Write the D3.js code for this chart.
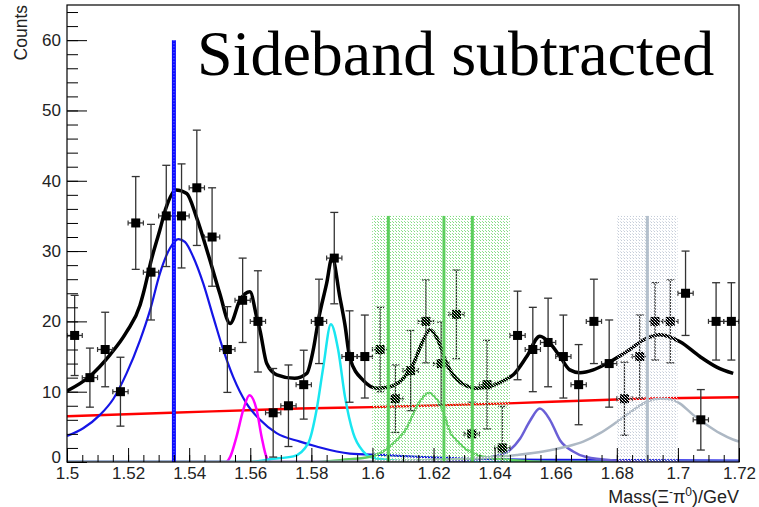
<!DOCTYPE html>
<html>
<head>
<meta charset="utf-8">
<script src="https://cdn.jsdelivr.net/npm/d3@7"></script>
<style>
  body { margin: 0; background: #fff; }
  svg { display: block; }
</style>
</head>
<body>
<script>
// Chart size
const width = 759;
const height = 507;

// Bin centres and sideband-subtracted counts with errors
const binCenters = [1.5025, 1.5075, 1.5125, 1.5175, 1.5225, 1.5275, 1.5325, 1.5375, 1.5425, 1.5475,
  1.5525, 1.5575, 1.5625, 1.5675, 1.5725, 1.5775, 1.5825, 1.5875, 1.5925, 1.5975,
  1.6025, 1.6075, 1.6125, 1.6175, 1.6225, 1.6275, 1.6325, 1.6375, 1.6425, 1.6475,
  1.6525, 1.6575, 1.6625, 1.6675, 1.6725, 1.6775, 1.6825, 1.6875, 1.6925, 1.6975,
  1.7025, 1.7075, 1.7125, 1.7175];
const counts = [18, 12, 16, 10, 34, 27, 35, 35, 39, 32,
  16, 23, 20, 7, 8, 11, 20, 29, 15, 15,
  16, 9, 13, 20, 14, 21, 4, 11, 2, 18,
  16, 17, 15, 11, 20, 14, 9, 15, 20, 20,
  24, 6, 20, 20];
const errors = [5.7, 4.2, 5.3, 4.9, 6.6, 6.8, 7.2, 7.4, 8.2, 7.0,
  6.1, 6.0, 7.2, 6.3, 5.8, 4.9, 6.0, 6.5, 6.5, 5.9,
  6.0, 4.8, 5.7, 5.9, 5.9, 6.3, 4.5, 6.3, 5.9, 6.3,
  6.0, 6.3, 5.9, 5.7, 6.0, 6.2, 5.2, 5.9, 5.5, 5.9,
  6.0, 4.3, 5.5, 5.5];
const binHalfWidth = 0.0025;

// Fit curves, [mass, counts]
const totalFit = [[1.5, 10.1], [1.5075, 12.2], [1.514, 15.2], [1.5195, 18.5], [1.5239, 22.3], [1.525, 24.0],
  [1.5277, 28.9], [1.5304, 33], [1.5323, 36], [1.5357, 38.7], [1.5392, 38.2], [1.5424, 34.8],
  [1.5468, 28.7], [1.55, 24], [1.5534, 19.7], [1.5566, 23], [1.5599, 24.2], [1.5621, 20.6],
  [1.5632, 18.7], [1.5654, 14], [1.5687, 12.4], [1.5745, 11.9], [1.5785, 12.6], [1.5806, 15.9],
  [1.5823, 20.2], [1.585, 25.4], [1.5868, 29.1], [1.5893, 23.5], [1.591, 19.5], [1.5926, 14.8],
  [1.597, 11.6], [1.6014, 10.5], [1.6057, 10.7], [1.6101, 11.9], [1.6134, 14], [1.6166, 17.3],
  [1.6188, 18.8], [1.6215, 17.3], [1.6243, 14], [1.6286, 11.4], [1.6341, 10.5], [1.6395, 10.9],
  [1.6435, 11.7], [1.6461, 12.4], [1.6505, 15], [1.6548, 17.9], [1.6581, 16.9], [1.6614, 15],
  [1.6646, 13.1], [1.6679, 12.7], [1.6723, 13.1], [1.6767, 14], [1.6832, 15.7], [1.6898, 17.6],
  [1.6941, 18.1], [1.7007, 17.1], [1.7072, 15], [1.7127, 13.5], [1.7181, 12.6]];
const xi1530 = [[1.5, 3.7], [1.5053, 4.8], [1.5108, 6.7], [1.5152, 9], [1.5195, 12.6], [1.5239, 17.3],
  [1.5272, 21.6], [1.5304, 26.8], [1.5337, 30.4], [1.5365, 31.7], [1.5386, 31.3], [1.5413, 29.2],
  [1.5446, 25.4], [1.5479, 20.6], [1.5512, 15.9], [1.5544, 12.1], [1.5588, 8.3], [1.5632, 6],
  [1.5686, 4.1], [1.5763, 2.9], [1.5817, 2.2], [1.5926, 1.2], [1.6035, 1], [1.6145, 0.75],
  [1.63, 0.5], [1.66, 0.3], [1.72, 0.2]];
const xi1560 = [[1.5, 0], [1.552, 0], [1.5535, 0.8], [1.5555, 3.6], [1.5577, 7.4], [1.5597, 9.5],
  [1.5621, 7.4], [1.5637, 3.6], [1.5654, 0.6], [1.567, 0], [1.72, 0]];
const xi1590 = [[1.5, 0], [1.56, 0], [1.5665, 0.4], [1.5741, 0.8], [1.579, 2.7], [1.5817, 7.4],
  [1.5839, 13.5], [1.5864, 19.6], [1.5888, 15.9], [1.591, 9.3], [1.5937, 4.1], [1.597, 1.5],
  [1.5992, 0.75], [1.605, 0.3], [1.615, 0], [1.72, 0]];
const xi1620 = [[1.5, 0], [1.58, 0], [1.59, 0.3], [1.5992, 0.75], [1.6035, 1.5], [1.6079, 3.1],
  [1.6112, 4.8], [1.6145, 7.9], [1.6185, 9.8], [1.6229, 7.4], [1.6254, 4.3], [1.6278, 2.9],
  [1.6319, 1.5], [1.6363, 0.75], [1.645, 0.3], [1.66, 0], [1.72, 0]];
const xi1655 = [[1.5, 0], [1.62, 0], [1.63, 0.2], [1.6417, 1], [1.645, 1.7], [1.6483, 3.3],
  [1.6515, 5.8], [1.6548, 7.6], [1.6581, 6], [1.6614, 3.1], [1.6657, 1.5], [1.67, 0.7],
  [1.68, 0.2], [1.69, 0], [1.72, 0]];
const xi1690 = [[1.5, 0], [1.58, 0], [1.6, 0.1], [1.62, 0.3], [1.6472, 1], [1.6559, 1.5],
  [1.6636, 2.2], [1.669, 2.9], [1.6745, 4.1], [1.68, 5.7], [1.6854, 7.4], [1.6898, 8.6],
  [1.6941, 9], [1.6985, 8.8], [1.7007, 8.3], [1.705, 6.7], [1.7094, 5.3], [1.7137, 4.1],
  [1.718, 3.2], [1.72, 2.9]];
const background = [[1.5, 6.5], [1.534, 7.0], [1.576, 7.6], [1.6, 7.8], [1.642, 8.3], [1.68, 8.9], [1.72, 9.2]];

// Shaded mass windows and marker lines
const greenBands = [[1.6, 1.645], [1.6, 1.611], [1.621, 1.645]];
const greenLines = [1.6052, 1.6234, 1.6327];
const greyBand = [1.68, 1.70];
const greyLine = 1.69;
const bandTop = 35;
const xi1530Line = 1.535;
const xi1530LineTop = 60;

// Axis ticks
const xTicks = [1.5, 1.52, 1.54, 1.56, 1.58, 1.6, 1.62, 1.64, 1.66, 1.68, 1.7, 1.72];
const yTicks = [0, 10, 20, 30, 40, 50, 60];

const margin = { left: 67, right: 20, top: 5, bottom: 45 };

const svg = d3.select('body')
  .append('svg')
  .attr('width', width)
  .attr('height', height);

const x = d3.scaleLinear()
  .domain([1.5, 1.72])
  .range([margin.left, width - margin.right]);

const y = d3.scaleLinear()
  .domain([0, 65])
  .range([height - margin.bottom, margin.top]);

// Patterns for the shaded windows
const defs = svg.append('defs');

function dotPattern(id, dot, light) {
  const p = defs.append('pattern')
    .attr('id', id)
    .attr('width', 3)
    .attr('height', 3)
    .attr('patternUnits', 'userSpaceOnUse');
  p.append('rect').attr('x', 0).attr('y', 0).attr('width', 1).attr('height', 1).attr('fill', dot);
  p.append('rect').attr('x', 1).attr('y', 1).attr('width', 1).attr('height', 1).attr('fill', light);
  p.append('rect').attr('x', 2).attr('y', 2).attr('width', 1).attr('height', 1).attr('fill', dot).attr('opacity', 0.6);
}
dotPattern('greenDots', '#7fdc7f', '#ffffff');
dotPattern('greyDots', '#c4ccd8', '#ffffff');

defs.append('clipPath')
  .attr('id', 'plotClip')
  .append('rect')
  .attr('x', x.range()[0])
  .attr('y', y.range()[1])
  .attr('width', x.range()[1] - x.range()[0])
  .attr('height', y.range()[0] - y.range()[1]);

const plot = svg.append('g').attr('clip-path', 'url(#plotClip)');

const line = d3.line()
  .x(d => x(d[0]))
  .y(d => y(d[1]))
  .curve(d3.curveMonotoneX);

// Component curves
const components = [
  { data: background, color: '#ff0000', w: 2.4 },
  { data: xi1530, color: '#1515e6', w: 2.2 },
  { data: xi1560, color: '#ff00ff', w: 2.5 },
  { data: xi1590, color: '#19e6f0', w: 2.5 },
  { data: xi1620, color: '#5fcf5f', w: 2.5 },
  { data: xi1655, color: '#6a5fd6', w: 2.5 },
  { data: xi1690, color: '#adb8c4', w: 2.5 }
];

components.forEach(c => {
  plot.append('path')
    .datum(c.data)
    .attr('fill', 'none')
    .attr('stroke', c.color)
    .attr('stroke-width', c.w)
    .attr('d', line);
});

// Total fit
plot.append('path')
  .datum(totalFit)
  .attr('fill', 'none')
  .attr('stroke', '#000')
  .attr('stroke-width', 3.5)
  .attr('stroke-linejoin', 'round')
  .attr('d', line);

// Data points with error bars
const points = binCenters.map((m, i) => ({ m, c: counts[i], e: errors[i] }));
const pts = plot.append('g')
  .selectAll('g')
  .data(points)
  .enter()
  .append('g');

pts.append('line')
  .attr('x1', d => x(d.m)).attr('x2', d => x(d.m))
  .attr('y1', d => y(d.c + d.e)).attr('y2', d => y(d.c - d.e))
  .attr('stroke', '#333').attr('stroke-width', 1.3);
pts.append('line')
  .attr('x1', d => x(d.m) - 4).attr('x2', d => x(d.m) + 4)
  .attr('y1', d => y(d.c + d.e)).attr('y2', d => y(d.c + d.e))
  .attr('stroke', '#333').attr('stroke-width', 1.3);
pts.append('line')
  .attr('x1', d => x(d.m) - 4).attr('x2', d => x(d.m) + 4)
  .attr('y1', d => y(d.c - d.e)).attr('y2', d => y(d.c - d.e))
  .attr('stroke', '#333').attr('stroke-width', 1.3);
pts.append('line')
  .attr('x1', d => x(d.m - binHalfWidth)).attr('x2', d => x(d.m + binHalfWidth))
  .attr('y1', d => y(d.c)).attr('y2', d => y(d.c))
  .attr('stroke', '#333').attr('stroke-width', 1.3);
pts.append('line')
  .attr('x1', d => x(d.m - binHalfWidth)).attr('x2', d => x(d.m - binHalfWidth))
  .attr('y1', d => y(d.c) - 2.5).attr('y2', d => y(d.c) + 2.5)
  .attr('stroke', '#333').attr('stroke-width', 1.2);
pts.append('line')
  .attr('x1', d => x(d.m + binHalfWidth)).attr('x2', d => x(d.m + binHalfWidth))
  .attr('y1', d => y(d.c) - 2.5).attr('y2', d => y(d.c) + 2.5)
  .attr('stroke', '#333').attr('stroke-width', 1.2);
pts.append('rect')
  .attr('x', d => x(d.m) - 4.5)
  .attr('y', d => y(d.c) - 4.5)
  .attr('width', 9)
  .attr('height', 9)
  .attr('fill', '#000');

// Shaded windows on top
greenBands.forEach(b => {
  plot.append('rect')
    .attr('x', x(b[0]))
    .attr('y', y(bandTop))
    .attr('width', x(b[1]) - x(b[0]))
    .attr('height', y(0) - y(bandTop))
    .attr('fill', 'url(#greenDots)');
});
greenLines.forEach(v => {
  plot.append('line')
    .attr('x1', x(v)).attr('x2', x(v))
    .attr('y1', y(bandTop)).attr('y2', y(0))
    .attr('stroke', '#5ccf5c').attr('stroke-width', 3);
});

plot.append('rect')
  .attr('x', x(greyBand[0]))
  .attr('y', y(bandTop))
  .attr('width', x(greyBand[1]) - x(greyBand[0]))
  .attr('height', y(0) - y(bandTop))
  .attr('fill', 'url(#greyDots)');
plot.append('line')
  .attr('x1', x(greyLine)).attr('x2', x(greyLine))
  .attr('y1', y(bandTop)).attr('y2', y(0))
  .attr('stroke', '#b4c0cc').attr('stroke-width', 3);

// Xi(1530) mass line
plot.append('line')
  .attr('x1', x(xi1530Line)).attr('x2', x(xi1530Line))
  .attr('y1', y(xi1530LineTop)).attr('y2', y(0))
  .attr('stroke', '#0a0aff').attr('stroke-width', 4);
plot.append('line')
  .attr('x1', x(xi1530Line)).attr('x2', x(xi1530Line))
  .attr('y1', y(xi1530LineTop)).attr('y2', y(0))
  .attr('stroke', '#7a7aff').attr('stroke-width', 1.2)
  .attr('stroke-dasharray', '1,2');

// Axes
const fontFamily = '"Liberation Sans", Arial, Helvetica, sans-serif';

const xAxis = svg.append('g')
  .attr('transform', `translate(0,${y(0)})`)
  .call(d3.axisBottom(x).tickValues(xTicks).tickSizeInner(-14).tickSizeOuter(0).tickPadding(5).tickFormat(d3.format('')));
xAxis.select('.domain').remove();
xAxis.selectAll('text').attr('font-size', 17).attr('font-family', fontFamily).attr('fill', '#222');

const xMinor = d3.range(0, 45).map(i => 1.5 + i * 0.005);
const xAxisMinor = svg.append('g')
  .attr('transform', `translate(0,${y(0)})`)
  .call(d3.axisBottom(x).tickValues(xMinor).tickSizeInner(-7).tickSizeOuter(0).tickFormat(''));
xAxisMinor.select('.domain').remove();

const yAxis = svg.append('g')
  .attr('transform', `translate(${x.range()[0]},0)`)
  .call(d3.axisLeft(y).tickValues(yTicks).tickSizeInner(-20).tickSizeOuter(0).tickPadding(6));
yAxis.select('.domain').remove();
yAxis.selectAll('text').attr('font-size', 17).attr('font-family', fontFamily).attr('fill', '#222');
// lift the zero label so it clears the first x label
yAxis.selectAll('.tick').filter(d => d === 0).select('text').attr('dy', '0.02em');

const yMinor = d3.range(0, 33).map(i => i * 2);
const yAxisMinor = svg.append('g')
  .attr('transform', `translate(${x.range()[0]},0)`)
  .call(d3.axisLeft(y).tickValues(yMinor).tickSizeInner(-11).tickSizeOuter(0).tickFormat(''));
yAxisMinor.select('.domain').remove();

svg.selectAll('.tick line').attr('stroke', '#000');

// Frame
svg.append('rect')
  .attr('x', x.range()[0])
  .attr('y', y.range()[1])
  .attr('width', x.range()[1] - x.range()[0])
  .attr('height', y.range()[0] - y.range()[1])
  .attr('fill', 'none')
  .attr('stroke', '#000')
  .attr('stroke-width', 1.2);

// Axis titles
svg.append('text')
  .attr('transform', `translate(27,${margin.top}) rotate(-90)`)
  .attr('text-anchor', 'end')
  .attr('font-size', 17.5)
  .attr('font-family', fontFamily)
  .attr('fill', '#222')
  .text('Counts');

const xTitle = svg.append('text')
  .attr('x', x.range()[1])
  .attr('y', 503)
  .attr('text-anchor', 'end')
  .attr('font-size', 18)
  .attr('font-family', fontFamily)
  .attr('fill', '#222');
xTitle.append('tspan').text('Mass(\u039E');
xTitle.append('tspan').attr('font-size', 12).attr('dy', -7).text('-');
xTitle.append('tspan').attr('dy', 7).text('\u03C0');
xTitle.append('tspan').attr('font-size', 12).attr('dy', -7).text('0');
xTitle.append('tspan').attr('dy', 7).text(')/GeV');

// Title
svg.append('text')
  .attr('x', 197)
  .attr('y', 75)
  .attr('font-size', 64)
  .attr('font-family', '"Liberation Serif", "Times New Roman", serif')
  .attr('fill', '#000')
  .text('Sideband subtracted');
</script>
</body>
</html>
